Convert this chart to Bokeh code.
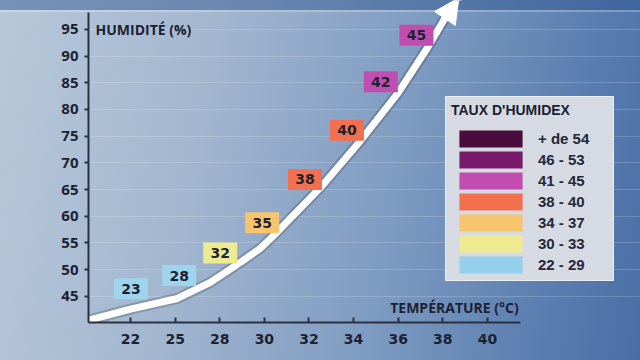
from bokeh.plotting import figure
from bokeh.models import Range1d, FixedTicker, Arrow, NormalHead, Legend, LegendItem, Label
from bokeh.core.properties import value
from bokeh.embed import file_html
from bokeh.resources import INLINE

# ---- data ----
temp_labels = ["22", "25", "28", "30", "32", "34", "36", "38", "40"]
hum_ticks = [45, 50, 55, 60, 65, 70, 75, 80, 85, 90, 95]

# curve (x in temperature-tick index units, y in humidity %)
curve_x = [-0.96, 0.0, 1.05, 1.79, 2.47, 2.91, 3.21, 4.26, 5.16, 5.99, 6.66, 7.02]
curve_y = [40.5, 42.6, 44.6, 47.6, 51.4, 54.0, 56.4, 65.4, 74.2, 83.0, 91.6, 96.7]
tip_x, tip_y = 7.36, 100.9

# humidex value boxes along the curve
hx_vals = ["23", "28", "32", "35", "38", "40", "42", "45"]
hx_x = [0.01, 1.09, 2.01, 2.95, 3.91, 4.85, 5.61, 6.41]
hx_y = [46.4, 48.9, 53.1, 58.8, 66.9, 76.1, 85.2, 93.9]
hx_colors = ["#9ed4ec", "#9ed4ec", "#eeea90", "#f8c46e", "#f3704e", "#f3704e", "#c24db0", "#c24db0"]

legend_labels = ["+ de 54", "46 - 53", "41 - 45", "38 - 40", "34 - 37", "30 - 33", "22 - 29"]
legend_colors = ["#4a0c3e", "#7a1a6a", "#c24db0", "#f3704e", "#f8c46e", "#eeea90", "#94d0ec"]

DARK = "#1c2233"
NAN = float("nan")

p = figure(width=640, height=360,
           x_range=Range1d(-0.942, 11.43), y_range=Range1d(40.1, 100.4),
           output_backend="svg", toolbar_location=None,
           min_border_left=88, min_border_bottom=38, min_border_top=0, min_border_right=0)
p.background_fill_color = None
p.border_fill_color = None
p.outline_line_color = None
p.styles = {
    "background": (
        "linear-gradient(to bottom, rgba(40,80,140,0.45) 0px, rgba(40,80,140,0.45) 10px, "
        "rgba(255,255,255,0.25) 10px, rgba(255,255,255,0.25) 12px, rgba(0,0,0,0) 12px), "
        "linear-gradient(100deg, #b8c8da 0%, #a3b7cf 30%, #7f9cc2 60%, #5a7eb0 85%, #4a6fa5 100%)"
    )
}

# axes
p.xaxis.ticker = FixedTicker(ticks=list(range(len(temp_labels))))
p.xaxis.major_label_overrides = {i: t for i, t in enumerate(temp_labels)}
p.xaxis.bounds = (-0.942, 8.75)
p.xaxis.major_tick_in = 5
p.xaxis.major_tick_out = 0
p.xaxis.minor_tick_line_color = None
p.xaxis.major_label_standoff = 11
p.xaxis.major_label_text_font = "DejaVu Sans"
p.xaxis.major_label_text_font_style = "bold"
p.xaxis.major_label_text_font_size = "14px"

p.yaxis.ticker = FixedTicker(ticks=hum_ticks)
p.yaxis.bounds = (40.1, 98.2)
p.yaxis.major_tick_in = 0
p.yaxis.major_tick_out = 4
p.yaxis.minor_tick_line_color = None
p.yaxis.major_label_standoff = 6
p.yaxis.major_label_text_font = "Open Sans"
p.yaxis.major_label_text_font_style = "bold"
p.yaxis.major_label_text_font_size = "15px"

for ax in (p.xaxis, p.yaxis):
    ax.axis_line_color = "#2a3142"
    ax.axis_line_width = 2
    ax.major_tick_line_color = "#2a3142"
    ax.major_tick_line_width = 2
    ax.major_label_text_color = DARK

p.xgrid.visible = False
p.ygrid.grid_line_color = "white"
p.ygrid.grid_line_alpha = 0.18
p.ygrid.grid_line_width = 1

# axis titles
p.add_layout(Label(x=-0.942, y=95, x_offset=7, text="HUMIDITÉ (%)", text_baseline="middle",
                   text_font="Open Sans", text_font_style="bold", text_font_size="14px",
                   text_color=DARK))
p.add_layout(Label(x=8.7, y=43.0, text="TEMPÉRATURE (°C)", text_align="right", text_baseline="middle",
                   text_font="Open Sans", text_font_style="bold", text_font_size="14px",
                   text_color=DARK))

# curve with shadow
p.line(curve_x, curve_y, line_color="black", line_alpha=0.18, line_width=11,
       line_join="round", line_cap="round")
p.line(curve_x, curve_y, line_color="white", line_width=7, line_join="round", line_cap="round")
p.add_layout(Arrow(end=NormalHead(size=25, fill_color="white", line_color="white", line_width=1),
                   x_start=curve_x[-1], y_start=curve_y[-1], x_end=tip_x, y_end=tip_y,
                   line_color="white", line_width=7))

# humidex boxes
p.rect(x=hx_x, y=hx_y, width=34, height=21, width_units="screen", height_units="screen",
       fill_color=hx_colors, line_color=None)
p.text(x=hx_x, y=hx_y, text=hx_vals, text_align="center", text_baseline="middle",
       text_font=value("DejaVu Sans"), text_font_style="bold", text_font_size="14px",
       text_color=DARK)

# legend (proxy renderers with no visible point)
items = []
for lab, col in zip(legend_labels, legend_colors):
    r = p.rect(x=[NAN], y=[NAN], width=1, height=1, fill_color=col, line_color=None)
    items.append(LegendItem(label=lab, renderers=[r]))

legend = Legend(items=items, location=(357, 41), title="TAUX D'HUMIDEX",
                margin=0, padding=5, spacing=0,
                glyph_width=79, glyph_height=21, label_height=21, label_width=70,
                label_standoff=8,
                label_text_font="Liberation Sans", label_text_font_style="bold",
                label_text_font_size="15px", label_text_color="#24283a",
                title_text_font="Liberation Sans", title_text_font_style="bold",
                title_text_font_size="14px", title_text_color="#1c2030", title_standoff=10,
                background_fill_color="#d6dbe3", background_fill_alpha=1.0,
                border_line_color="#eef1f5", border_line_alpha=0.9, border_line_width=1)
p.add_layout(legend)

open("out.html", "w").write(file_html(p, INLINE))
